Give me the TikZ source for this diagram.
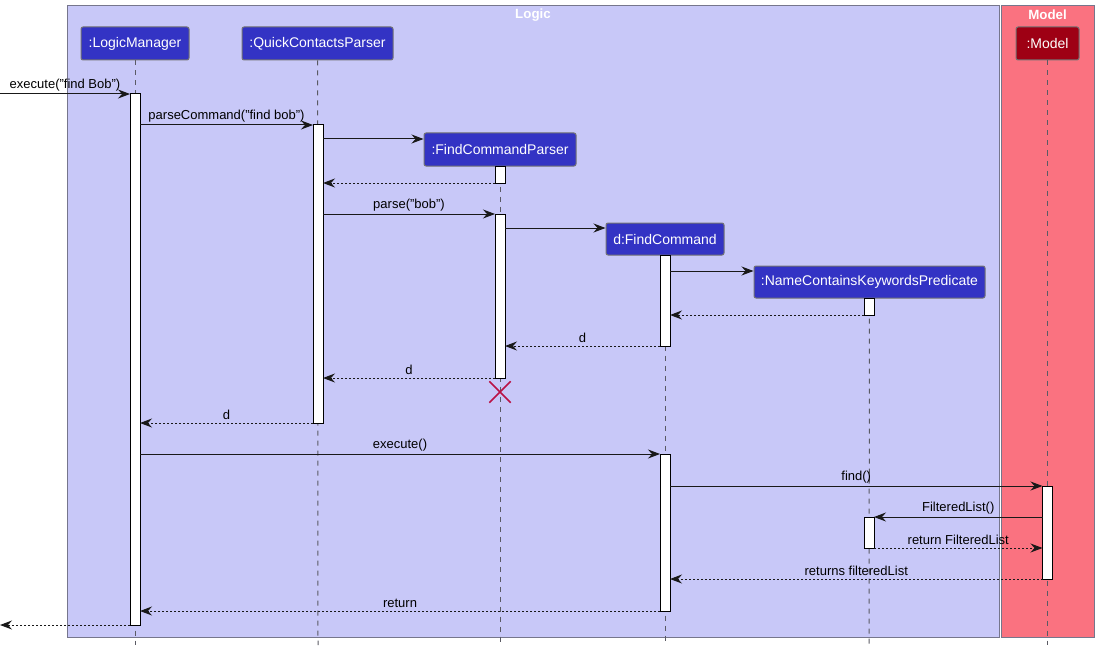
\documentclass[tikz,border=0pt]{standalone}
\usepackage{fontspec}
\setmainfont{Liberation Sans}
\usetikzlibrary{arrows.meta,shapes.misc}

\definecolor{logicbox}{RGB}{200,200,248}
\definecolor{modelbox}{RGB}{250,114,128}
\definecolor{logicpart}{RGB}{51,51,196}
\definecolor{modelpart}{RGB}{158,0,20}
\definecolor{boxline}{RGB}{118,118,140}
\definecolor{lifegrey}{RGB}{90,90,100}
\definecolor{destroyred}{RGB}{186,18,70}

\tikzset{
  participant/.style={draw=black!55, line width=0.75pt, rounded corners=1.5pt, text=white,
    font=\fontsize{10.5}{12}\selectfont, inner sep=0pt, minimum height=24.75pt},
  lifeline/.style={draw=lifegrey, line width=0.75pt, dash pattern=on 3.75pt off 3.75pt},
  activation/.style={draw=black, fill=white, line width=0.75pt, inner sep=0pt, outer sep=0pt,
    minimum width=7.5pt, anchor=north},
  msg/.style={draw=black!90, line width=0.75pt, -{Stealth[length=9pt,width=6.75pt,inset=3pt]}},
  ret/.style={msg, dash pattern=on 1.5pt off 1.5pt},
  msglabel/.style={font=\fontsize{9.75}{11}\selectfont, above, inner sep=2pt},
  grouptitle/.style={font=\bfseries\fontsize{10}{11}\selectfont, text=white}
}

\begin{document}
\begin{tikzpicture}[x=0.75pt,y=0.75pt,yscale=-1,xscale=1]
\useasboundingbox (0,0) rectangle (1098,649);

% group boxes
\draw[boxline, fill=logicbox, line width=0.75pt] (67,6) rectangle (999,637);
\draw[boxline, fill=modelbox, line width=0.75pt] (1001,6) rectangle (1094,637);
\node[grouptitle] (logictitle) at (533,15) {Logic};
\node[grouptitle] (modeltitle) at (1047.5,15) {Model};

% participants
\node[participant, fill=logicpart, minimum width=81pt] (lm) at (135,43.5) {:LogicManager};
\node[participant, fill=logicpart, minimum width=113.25pt] (qcp) at (317.5,43.5) {:QuickContactsParser};
\node[participant, fill=logicpart, minimum width=114pt] (fcp) at (500,149.5) {:FindCommandParser};
\node[participant, fill=logicpart, minimum width=88.5pt, minimum height=24pt] (fc) at (665,239) {d:FindCommand};
\node[participant, fill=logicpart, minimum width=173.25pt, minimum height=24pt] (nckp) at (869.5,282) {:NameContainsKeywordsPredicate};
\node[participant, fill=modelpart, minimum width=47.25pt] (mdl) at (1047.5,43.5) {:Model};

% lifelines
\coordinate (lmend) at (135,645);
\coordinate (qcpend) at (318,645);
\coordinate (fcpend) at (500,645);
\coordinate (fcend) at (665,645);
\coordinate (nckpend) at (869,645);
\coordinate (mdlend) at (1047.5,645);
\draw[lifeline] (lm.south) -- (lmend);
\draw[lifeline] (qcp.south) -- (qcpend);
\draw[lifeline] (fcp.south) -- (fcpend);
\draw[lifeline] (fc.south) -- (fcend);
\draw[lifeline] (nckp.south) -- (nckpend);
\draw[lifeline] (mdl.south) -- (mdlend);

% activations
\node[activation, minimum height=398.25pt] (lm1) at (135,94) {};
\node[activation, minimum height=223.5pt] (qp1) at (318,125) {};
\node[activation, minimum height=12.75pt] (fp1) at (500,166) {};
\node[activation, minimum height=123pt] (fp2) at (500,214) {};
\node[activation, minimum height=68.25pt] (fc1) at (665,255) {};
\node[activation, minimum height=117.75pt] (fc2) at (665,454) {};
\node[activation, minimum height=12.75pt] (nk1) at (869,298) {};
\node[activation, minimum height=23.25pt] (nk2) at (869,517) {};
\node[activation, minimum height=69.75pt] (md1) at (1047.5,486) {};

% destroy
\node[cross out, draw=destroyred, line width=1.1pt, minimum size=15pt, inner sep=0pt] (fcpx) at (500,392) {};

% messages
\coordinate (in) at (0,94);
\coordinate (out) at (0,625);
\draw[msg] (in) -- (lm1.north west) node[msglabel, midway] {execute("find Bob")};
\draw[msg] (lm1.east |- qp1.north) -- (qp1.north west) node[msglabel, midway] {parseCommand("find bob")};
\draw[msg] (qp1.east |- 0,139) -- (fcp.west |- 0,139);
\draw[ret] (fp1.south west) -- (qp1.east |- fp1.south);
\draw[msg] (qp1.east |- fp2.north) -- (fp2.north west) node[msglabel, midway] {parse("bob")};
\draw[msg] (fp2.east |- 0,228) -- (fc.west |- 0,228);
\draw[msg] (fc1.east |- 0,271) -- (nckp.west |- 0,271);
\draw[ret] (nk1.south west) -- (fc1.east |- nk1.south);
\draw[ret] (fc1.south west) -- (fp2.east |- fc1.south) node[msglabel, midway] {d};
\draw[ret] (fp2.south west) -- (qp1.east |- fp2.south) node[msglabel, midway] {d};
\draw[ret] (qp1.south west) -- (lm1.east |- qp1.south) node[msglabel, midway] {d};
\draw[msg] (lm1.east |- fc2.north) -- (fc2.north west) node[msglabel, midway] {execute()};
\draw[msg] (fc2.east |- md1.north) -- (md1.north west) node[msglabel, midway] {find()};
\draw[msg] (md1.west |- nk2.north) -- (nk2.north east) node[msglabel, midway] {FilteredList()};
\draw[ret] (nk2.south east) -- (md1.west |- nk2.south) node[msglabel, midway] {return FilteredList};
\draw[ret] (md1.south west) -- (fc2.east |- md1.south) node[msglabel, midway] {returns filteredList};
\draw[ret] (fc2.south west) -- (lm1.east |- fc2.south) node[msglabel, midway] {return};
\draw[ret] (lm1.south west) -- (out);

\end{tikzpicture}
\end{document}
